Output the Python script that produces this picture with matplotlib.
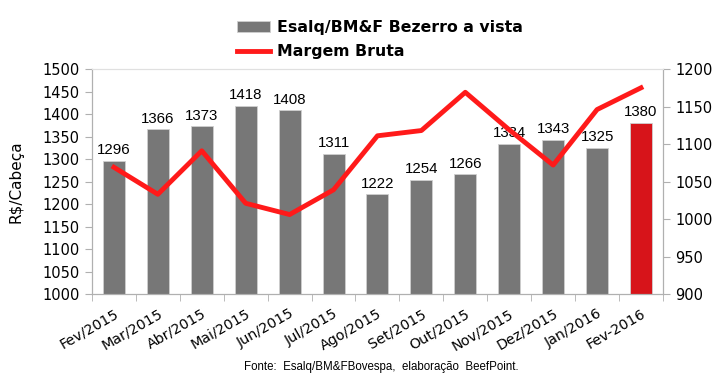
import numpy as np
import matplotlib.pyplot as plt

meses = ["Fev/2015", "Mar/2015", "Abr/2015", "Mai/2015", "Jun/2015", "Jul/2015",
         "Ago/2015", "Set/2015", "Out/2015", "Nov/2015", "Dez/2015", "Jan/2016",
         "Fev-2016"]
bezerro = [1296, 1366, 1373, 1418, 1408, 1311, 1222, 1254, 1266, 1334, 1343, 1325, 1380]
margem = [1069, 1033, 1091, 1021, 1006, 1039, 1111, 1118, 1169, 1119, 1072, 1146, 1175]

GRIS = "#777777"
VERMELHO = "#d7141a"
EIXO = "#b0b0b0"
NUM = "Liberation Sans"


def main():
    fig = plt.figure(figsize=(7.27, 3.91), dpi=100)
    ax = fig.add_axes([0.1265, 0.248, 0.7854, 0.5754])
    ax2 = ax.twinx()

    x = np.arange(len(meses))
    cores = [GRIS] * (len(meses) - 1) + [VERMELHO]
    barras = ax.bar(x, bezerro, width=0.5, color=cores, zorder=2,
                    edgecolor="#cfcfcf", linewidth=0.6)
    for xi, v in zip(x, bezerro):
        ax.text(xi, v + 8, str(v), ha="center", va="bottom", fontsize=10.8,
                family=NUM)

    linha, = ax2.plot(x, margem, color="#ff1a1a", lw=3.5, zorder=3)

    ax.set_xlim(-0.5, len(meses) - 0.5)
    ax.set_ylim(1000, 1500)
    ax.set_yticks(range(1000, 1501, 50))
    ax2.set_ylim(900, 1200)
    ax2.set_yticks(range(900, 1201, 50))

    ax.set_xticks(x)
    ax.set_xticklabels(meses, rotation=30, ha="right", rotation_mode="anchor",
                       fontsize=10.3)
    ax.set_xticks(np.arange(-0.5, len(meses), 1), minor=True)
    ax.tick_params(axis="x", which="major", length=0, pad=9)
    ax.tick_params(axis="x", which="minor", length=5, color=EIXO)
    for a in (ax, ax2):
        a.tick_params(axis="y", color=EIXO, length=5, labelsize=10.5, pad=4)
        for s in a.spines.values():
            s.set_color(EIXO)
        a.spines["top"].set_color("#e0e0e0")

    ax.set_ylabel("R$/Cabeça", fontsize=11)
    ax.yaxis.set_label_coords(-0.12, 0.5)

    fig.legend([barras, linha], ["Esalq/BM&F Bezerro a vista", "Margem Bruta"],
               loc="upper left", bbox_to_anchor=(0.307, 0.985), frameon=False,
               prop={"weight": "bold", "size": 11.3}, handlelength=2.1,
               labelspacing=0.6, handletextpad=0.4)

    fig.text(0.524, 0.061, "Fonte:  Esalq/BM&FBovespa,  elaboração  BeefPoint.",
             ha="center", va="center", fontsize=8.3, family=NUM)

    fig.savefig("out.png", dpi=100)


if __name__ == "__main__":
    main()
